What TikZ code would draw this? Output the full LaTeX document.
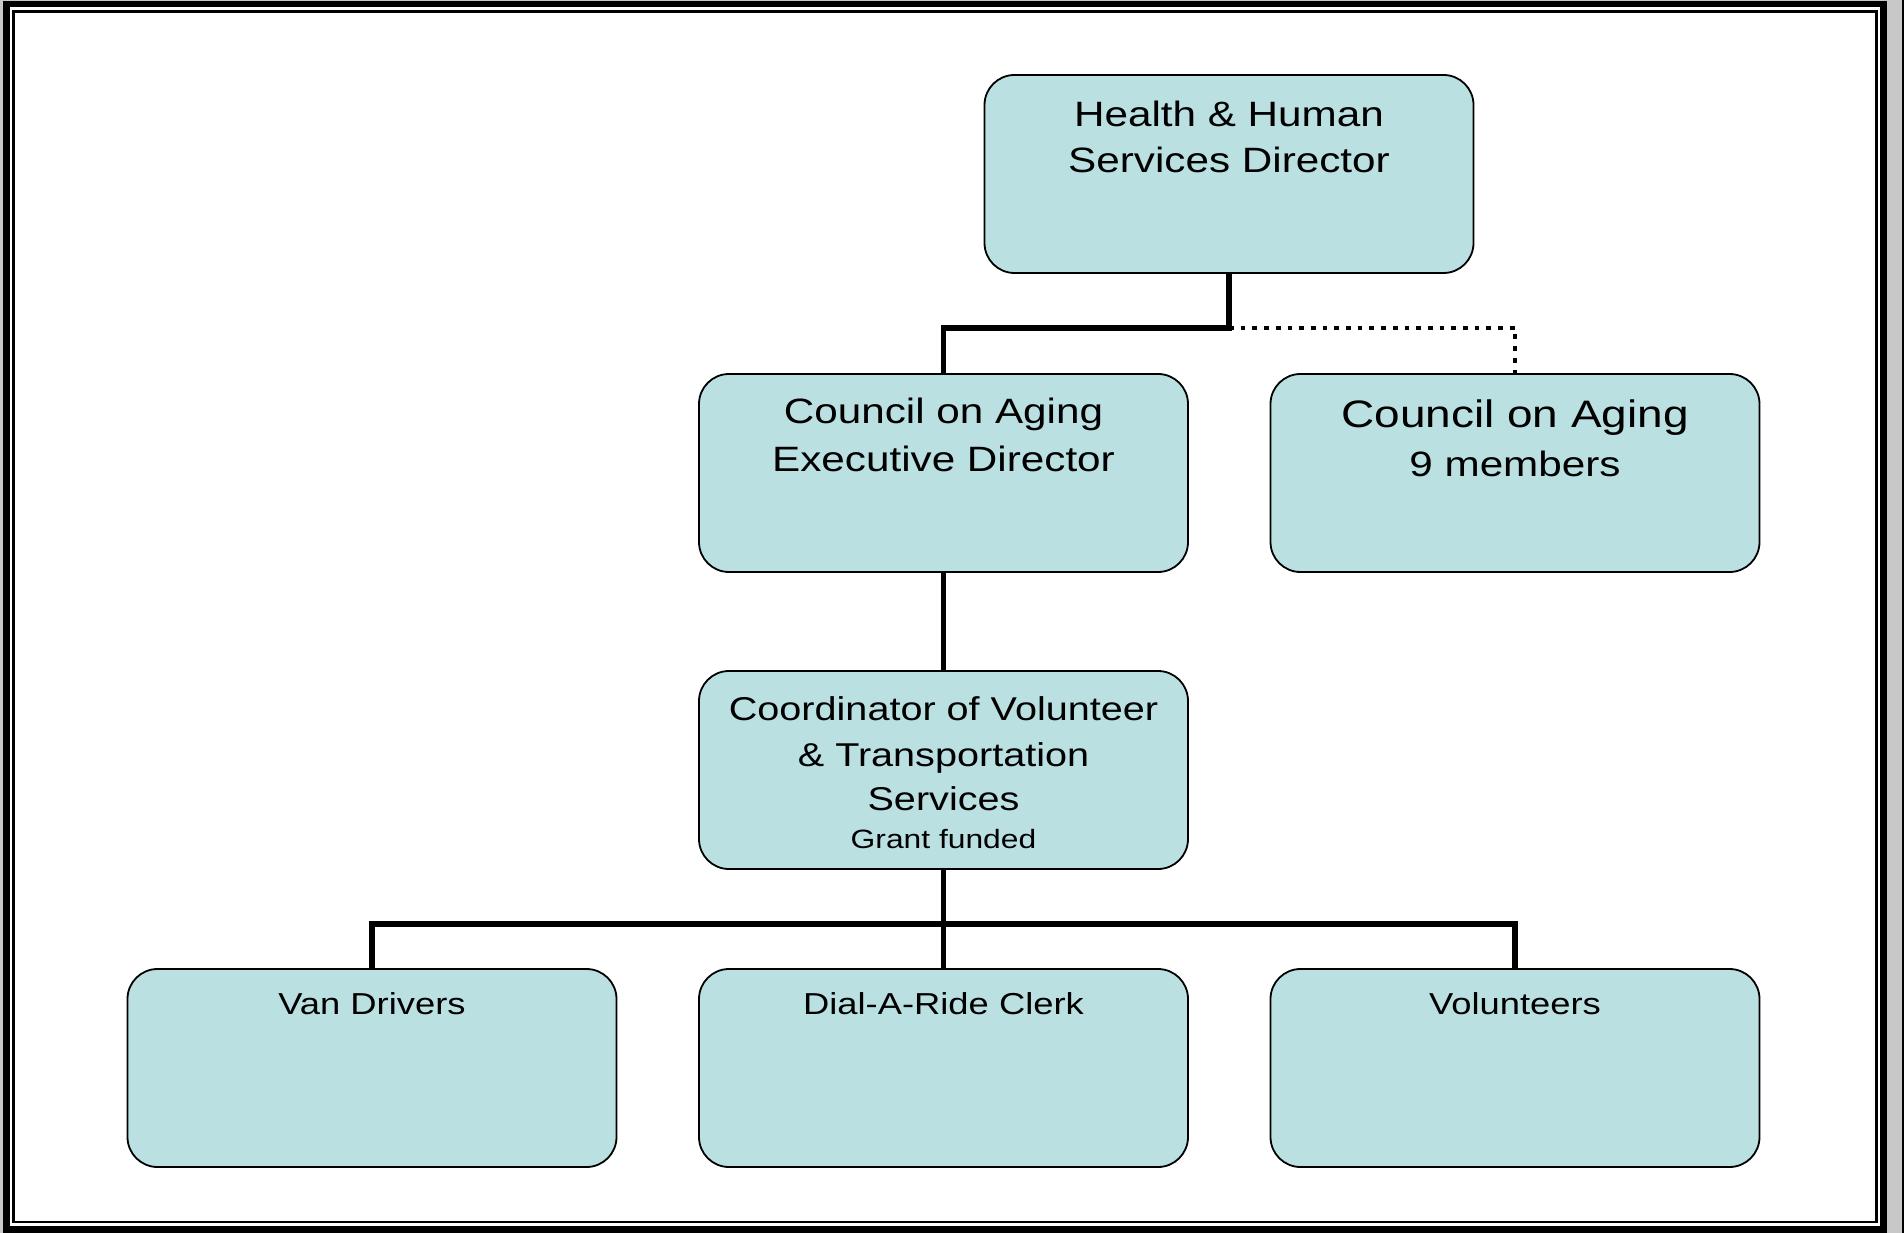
\documentclass[tikz,border=0pt]{standalone}
\usepackage{fontspec}
\setmainfont{Liberation Sans}[FakeStretch=1.2]
\definecolor{boxfill}{RGB}{186,224,226}
\definecolor{framegray}{RGB}{200,200,200}
\tikzset{
  orgbox/.style={draw=black, line width=1.8, fill=boxfill, rounded corners=30,
    minimum width=489, minimum height=198, inner sep=0},
  lbl/.style={anchor=base, inner sep=0, text=black},
  conn/.style={line width=5.5, black},
  dotconn/.style={line width=4.7, black, dash pattern=on 4.7pt off 7pt}
}
\newcommand{\fs}[1]{\fontsize{#1}{#1}\selectfont}
\begin{document}
\begin{tikzpicture}[x=1pt, y=-1pt]
\useasboundingbox (0,0) rectangle (1904,1233);
% frame
\fill[framegray] (0,0) rectangle (1904,1233);
\fill[black] (3,1) rectangle (1887,1233);
\fill[white] (10,7.5) rectangle (1880,1226);
\draw[line width=2.6] (13.7,11.3) rectangle (1876.2,1222);
\fill[black] (1902,0) rectangle (1904,1233);

% boxes
\node[orgbox] (hhs) at (1229,174) {};
\node[orgbox] (coa) at (943.5,473) {};
\node[orgbox] (coam) at (1515,473) {};
\node[orgbox] (coord) at (943.5,770) {};
\node[orgbox] (van) at (372,1068) {};
\node[orgbox] (dial) at (943.5,1068) {};
\node[orgbox] (vol) at (1515,1068) {};

% connectors
\coordinate (j1) at (1229,328);
\coordinate (j2) at (943.5,923.8);
\draw[conn] (hhs.south) -- (j1) -| (coa.north);
\draw[dotconn] (j1) -| (coam.north);
\draw[conn] (coa.south) -- (coord.north);
\draw[conn] (coord.south) -- (j2) -- (dial.north);
\draw[conn] (j2) -| (van.north);
\draw[conn] (j2) -| (vol.north);

% labels
\node[lbl, font=\fs{35.2}] (t1a) at (1229,126.7) {Health \& Human};
\node[lbl, font=\fs{35.2}] (t1b) at (1229,172.7) {Services Director};
\node[lbl, font=\fs{35.2}] (t2a) at (943.5,423.3) {Council on Aging};
\node[lbl, font=\fs{35.2}] (t2b) at (943.5,471.7) {Executive Director};
\node[lbl, font=\fs{38.3}] (t3a) at (1515,427.7) {Council on Aging};
\node[lbl, font=\fs{35.2}] (t3b) at (1515,476.7) {9 members};
\node[lbl, font=\fs{33}] (t4a) at (943.5,720) {Coordinator of Volunteer};
\node[lbl, font=\fs{33}] (t4b) at (943.5,766) {\& Transportation};
\node[lbl, font=\fs{33}] (t4c) at (943.5,810.7) {Services};
\node[lbl, font=\fs{26.5}] (t4d) at (943.5,848.3) {Grant funded};
\node[lbl, font=\fs{30.3}] (t5) at (372,1014.3) {Van Drivers};
\node[lbl, font=\fs{30.3}] (t6) at (943.5,1014.3) {Dial-A-Ride Clerk};
\node[lbl, font=\fs{30.3}] (t7) at (1515,1014.3) {Volunteers};
\end{tikzpicture}
\end{document}
